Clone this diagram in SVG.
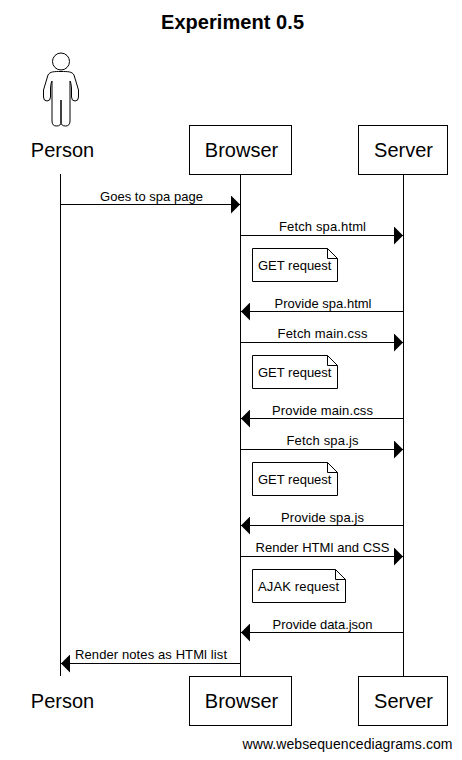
<svg xmlns="http://www.w3.org/2000/svg" width="462" height="760" viewBox="0 0 462 760">
<style>
text{font-family:"Liberation Sans",Arial,sans-serif;fill:#000}
.t{font-size:20px;text-anchor:middle}
.m{font-size:13px;text-anchor:middle}
.n{font-size:13px}
.b{fill:#fff;stroke:#000;stroke-width:1}
.l{fill:none;stroke:#000;stroke-width:1}
</style>
<defs>
<marker id="a" markerUnits="userSpaceOnUse" markerWidth="10" markerHeight="18" refX="9" refY="9" orient="auto"><path d="M0 0L9 9L0 18Z" fill="#000"/></marker>
</defs>
<rect width="462" height="760" fill="#fff"/>
<text x="232.500" y="29" font-size="20" font-weight="bold" text-anchor="middle" textLength="143">Experiment 0.5</text>
<g id="connectors">
<path class="l" d="M60.500 174V676M240.500 174V676M403.500 174V676"/>
<g class="l">
<path d="M61 204.500H240" marker-end="url(#a)"/>
<path d="M241 235.500H403" marker-end="url(#a)"/>
<path d="M403 311.500H241" marker-end="url(#a)"/>
<path d="M241 342.500H403" marker-end="url(#a)"/>
<path d="M403 418.500H241" marker-end="url(#a)"/>
<path d="M241 449.500H403" marker-end="url(#a)"/>
<path d="M403 525.500H241" marker-end="url(#a)"/>
<path d="M241 556.500H403" marker-end="url(#a)"/>
<path d="M403 632.500H241" marker-end="url(#a)"/>
<path d="M240 663.500H61" marker-end="url(#a)"/>
</g>
<text class="m" x="151.500" y="201" textLength="103">Goes to spa page</text>
<text class="m" x="322.500" y="231" textLength="87">Fetch spa.html</text>
<text class="m" x="323" y="308" textLength="97">Provide spa.html</text>
<text class="m" x="322.500" y="338" textLength="90">Fetch main.css</text>
<text class="m" x="322.500" y="415" textLength="101">Provide main.css</text>
<text class="m" x="322.500" y="445" textLength="72">Fetch spa.js</text>
<text class="m" x="322.500" y="522" textLength="83">Provide spa.js</text>
<text class="m" x="322.500" y="552" textLength="134">Render HTMl and CSS</text>
<text class="m" x="322.500" y="629" textLength="100">Provide data.json</text>
<text class="m" x="151" y="659" textLength="152">Render notes as HTMl list</text>
</g>
<g id="person-top">
<circle class="l" cx="61" cy="61.500" r="8.500"/>
<path class="l" d="M61 71.500C68 71.500 72 71.500 74 75L78.500 90V97Q78.500 101 75 101T71.500 97V88Q71 82 70 81V121Q70 126 65.500 126T61 122V100V122Q61 126 56.500 126T52 121V81Q51 82 50.500 88V97Q50.500 101 47 101T43.500 97V90L48 75C50 71.500 54 71.500 61 71.500Z"/>
<text class="t" x="62.500" y="157">Person</text>
</g>
<g id="browser-top"><rect class="b" x="189.500" y="125.500" width="102" height="49"/><text class="t" x="241.500" y="157">Browser</text></g>
<g id="server-top"><rect class="b" x="358.500" y="125.500" width="89" height="49"/><text class="t" x="403.500" y="157">Server</text></g>
<g id="note-1"><path class="b" d="M252.500 248.500H327.500L337.500 258.500V281.500H252.500ZM327.500 248.500V258.500H337.500"/><text class="n" x="258" y="270">GET request</text></g>
<g id="note-2"><path class="b" d="M252.500 355.500H327.500L337.500 365.500V388.500H252.500ZM327.500 355.500V365.500H337.500"/><text class="n" x="258" y="377">GET request</text></g>
<g id="note-3"><path class="b" d="M252.500 462.500H327.500L337.500 472.500V495.500H252.500ZM327.500 462.500V472.500H337.500"/><text class="n" x="258" y="484">GET request</text></g>
<g id="note-4"><path class="b" d="M252.500 569.500H335.500L345.500 579.500V602.500H252.500ZM335.500 569.500V579.500H345.500"/><text class="n" x="258" y="591" textLength="81">AJAK request</text></g>
<g id="person-bottom"><text class="t" x="62.500" y="708">Person</text></g>
<g id="browser-bottom"><rect class="b" x="189.500" y="676.500" width="102" height="49"/><text class="t" x="241.500" y="708">Browser</text></g>
<g id="server-bottom"><rect class="b" x="358.500" y="676.500" width="89" height="49"/><text class="t" x="403.500" y="708">Server</text></g>
<text x="242.500" y="749" font-size="14" textLength="210">www.websequencediagrams.com</text>
</svg>
